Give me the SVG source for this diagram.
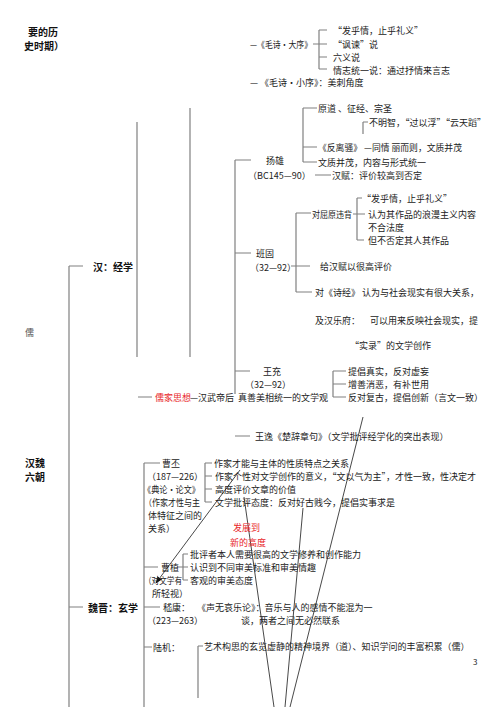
<svg xmlns="http://www.w3.org/2000/svg" width="500" height="707" viewBox="0 0 500 707">
<defs>
<style>
.t{font-family:"Noto Sans CJK SC","Noto Sans CJK JP",sans-serif;font-size:9px;fill:#222;dominant-baseline:central}
.b{font-family:"Noto Sans CJK SC","Noto Sans CJK JP",sans-serif;font-size:10px;font-weight:bold;fill:#111;dominant-baseline:central}
.r{fill:#e8262a}
.ln{stroke:#808080;stroke-width:1.2;fill:none}
.dg{stroke:#333;stroke-width:0.9;fill:none}
</style>
<marker id="ah" viewBox="0 0 10 10" refX="9" refY="5" markerWidth="7" markerHeight="7" orient="auto" markerUnits="userSpaceOnUse">
<path d="M0,1 L10,5 L0,9 z" fill="#111"/>
</marker>
</defs>
<rect width="500" height="707" fill="#fff"/>

<g id="connectors">
<path class="ln" d="M69,266 H83 M69,266 V707 M69,607 H83"/>
<path class="ln" d="M137,122 V357 M190,108 V357 M138,397 H152"/>
<path class="ln" d="M235,160 V394 M235,160 H251 M235,253 H251 M235,371 H250 M235,436 H250"/>
<path class="ln" d="M319,30 V69 M319,30 H327 M313,44 H327 M319,57 H327 M319,69 H327"/>
<path class="ln" d="M303,108 V162 M303,108 H317 M303,147 H317 M303,162 H317"/>
<path class="ln" d="M363,122 H368 M363,122 V134 M315,175 H331"/>
<path class="ln" d="M296,213 V292 M296,213 H311 M291,266 H310 M296,292 H312"/>
<path class="ln" d="M357,198 V240 M357,198 H362 M353,214 H365 M357,240 H364"/>
<path class="ln" d="M333,371 V397 M333,371 H346 M333,384 H346 M333,397 H346"/>
<path class="ln" d="M144,463 V707 M144,463 H160"/>
<path class="ln" d="M205,463 V502 M205,463 H212 M205,476 H212 M205,489 H212 M205,502 H212"/>
<path class="ln" d="M144,567 H158 M177,567 H183 M183,554 V580 M183,554 H188 M183,567 H188 M183,580 H188"/>
<path class="ln" d="M144,607 H160 M144,647 H152 M198,646 V698 M198,646 H203"/>
<path class="dg" d="M363,417 L290,707 M303,508 L285,707 M244,497 L274,707"/>
<path class="dg" d="M240,470 L156,583" marker-end="url(#ah)"/>
</g>

<g id="title"><text class="b" x="28" y="31">要的历</text><text class="b" x="24" y="45">史时期）</text></g>
<g id="ru"><text class="t" x="25" y="332" style="fill:#555">儒</text></g>
<g id="hanwei"><text class="b" x="25" y="462">汉魏</text><text class="b" x="25" y="476">六朝</text></g>
<g id="han"><text class="b" x="93" y="266">汉：经学</text></g>
<g id="weijin"><text class="b" x="88" y="607">魏晋：玄学</text></g>

<g id="daxu">
<text class="t" x="250" y="44" textLength="62" lengthAdjust="spacingAndGlyphs">—《毛诗·大序》</text>
<text class="t" x="333" y="30">“发乎情，止乎礼义”</text>
<text class="t" x="333" y="44"> “讽谏”说</text>
<text class="t" x="333" y="57">六义说</text>
<text class="t" x="333" y="70">情志统一说：通过抒情来言志</text>
</g>
<g id="xiaoxu"><text class="t" x="250" y="82">—  《毛诗·小序》：美刺角度</text></g>

<g id="yangxiong">
<text class="t" x="318" y="108">原道 、征经、宗圣</text>
<text class="t" x="369" y="122">不明智，“过以浮”“云天蹈”</text>
<text class="t" x="318" y="147" textLength="144" lengthAdjust="spacingAndGlyphs">《反离骚》 —同情 丽而则，文质并茂</text>
<text class="t" x="318" y="162">文质并茂，内容与形式统一</text>
<text class="t" x="266" y="160">扬雄</text>
<text class="t" x="248" y="175">（BC145—90）</text>
<text class="t" x="332" y="175">汉赋：评价较高到否定</text>
</g>

<g id="bangu">
<text class="t" x="312" y="214" textLength="40" lengthAdjust="spacingAndGlyphs">对屈原违背</text>
<text class="t" x="362" y="198">“发乎情，止乎礼义”</text>
<text class="t" x="368" y="214">认为其作品的浪漫主义内容</text>
<text class="t" x="368" y="227">不合法度</text>
<text class="t" x="368" y="240">但不否定其人其作品</text>
<text class="t" x="256" y="253">班固</text>
<text class="t" x="250" y="267">（32—92）</text>
<text class="t" x="320" y="266">给汉赋以很高评价</text>
<text class="t" x="315" y="292">对《诗经》 认为与社会现实有很大关系，</text>
<text class="t" x="315" y="320">及汉乐府：</text>
<text class="t" x="370" y="320">可以用来反映社会现实，提</text>
<text class="t" x="350" y="345">“实录”的文学创作</text>
</g>

<g id="wangchong">
<text class="t" x="263" y="371">王充</text>
<text class="t" x="245" y="384">（32—92）</text>
<text class="t r" x="155" y="397">儒家思想</text>
<text class="t" x="190" y="397">—汉武帝后</text>
<text class="t" x="238" y="397">真善美相统一的文学观</text>
<text class="t" x="348" y="371">提倡真实，反对虚妄</text>
<text class="t" x="348" y="384">增善消恶，有补世用</text>
<text class="t" x="348" y="397">反对复古，提倡创新（言文一致）</text>
</g>

<g id="wangyi"><text class="t" x="255" y="436">王逸《楚辞章句》（文学批评经学化的突出表现）</text></g>

<g id="caopi">
<text class="t" x="162" y="463">曹丕</text>
<text class="t" x="147" y="476">（187—226）</text>
<text class="t" x="143" y="489" textLength="57" lengthAdjust="spacingAndGlyphs">《典论·论文》</text>
<text class="t" x="144" y="502" textLength="56" lengthAdjust="spacingAndGlyphs">（作家才性与主</text>
<text class="t" x="148" y="515">体特征之间的</text>
<text class="t" x="148" y="528">关系）</text>
<text class="t" x="214" y="463">作家才能与主体的性质特点之关系</text>
<text class="t" x="215" y="476">作家个性对文学创作的意义，“文以气为主”，才性一致，性决定才</text>
<text class="t" x="215" y="489">高度评价文章的价值</text>
<text class="t" x="215" y="502">文学批评态度：反对好古贱今，提倡实事求是</text>
</g>

<g id="fazhan"><text class="t r" x="233" y="527">发展到</text><text class="t r" x="230" y="542">新的高度</text></g>

<g id="caozhi">
<text class="t" x="161" y="567">曹植</text>
<text class="t" x="144" y="580" textLength="38" lengthAdjust="spacingAndGlyphs">（对文学有</text>
<text class="t" x="152" y="593">所轻视）</text>
<text class="t" x="190" y="554">批评者本人需要很高的文学修养和创作能力</text>
<text class="t" x="190" y="567">认识到不同审美标准和审美情趣</text>
<text class="t" x="190" y="580">客观的审美态度</text>
</g>

<g id="jikang">
<text class="t" x="163" y="607">嵇康：</text>
<text class="t" x="197" y="607">《声无哀乐论》：音乐与人的感情不能混为一</text>
<text class="t" x="147" y="620">（223—263）</text>
<text class="t" x="241" y="620">谈，两者之间无必然联系</text>
</g>

<g id="luji">
<text class="t" x="153" y="647">陆机：</text>
<text class="t" x="204" y="646">艺术构思的玄览虚静的精神境界（道）、知识学问的丰富积累（儒）</text>
</g>

<g id="page"><text class="t" x="473" y="661" style="font-size:8px">3</text></g>
</svg>
